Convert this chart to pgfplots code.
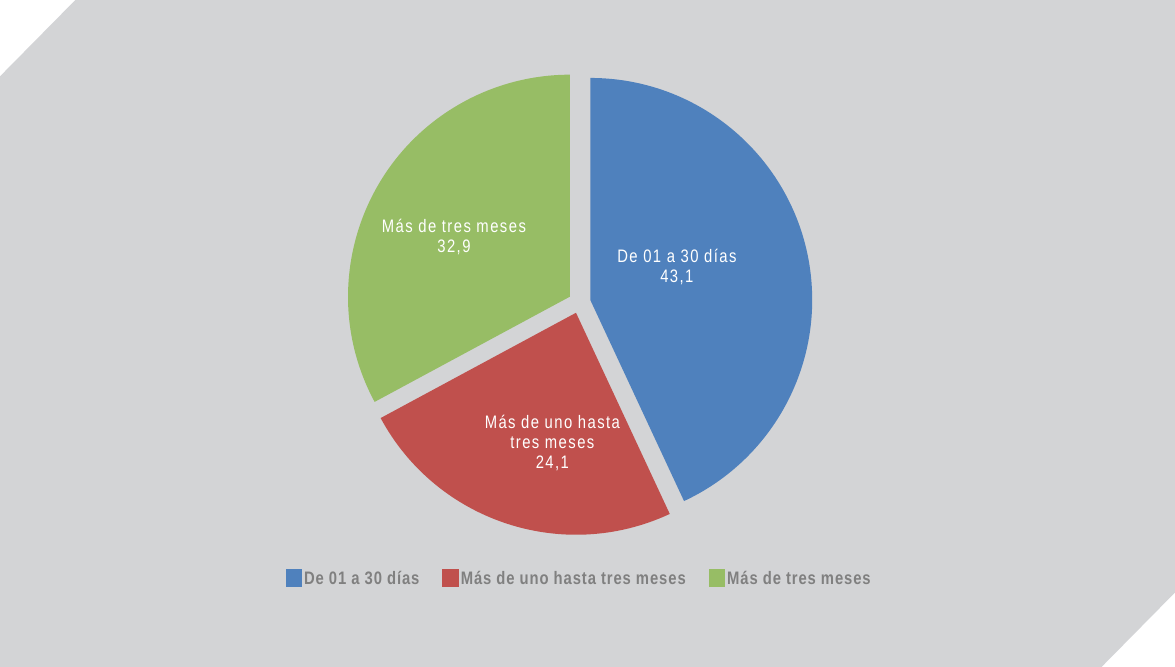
\documentclass[border=0pt]{standalone}
\usepackage{fontspec}
\setmainfont{Liberation Sans}
\newfontfamily\lblfont[FakeStretch=0.82,LetterSpace=8]{Liberation Sans}
\newfontfamily\legfont[FakeStretch=0.82,LetterSpace=5]{Liberation Sans}
\usepackage{pgfplots}
\pgfplotsset{compat=1.18}
\definecolor{bg}{RGB}{211,212,214}
\definecolor{cA}{RGB}{79,129,189}
\definecolor{cB}{RGB}{192,80,77}
\definecolor{cC}{RGB}{151,189,101}
\definecolor{legtxt}{RGB}{128,128,128}
% pie values
\def\vA{43.1}\def\vB{24.1}\def\vC{32.9}
\begin{document}
\begin{tikzpicture}
\pgfmathsetmacro\tot{\vA+\vB+\vC}
\pgfmathsetmacro\aA{90}
\pgfmathsetmacro\aB{90-360*\vA/\tot}
\pgfmathsetmacro\aC{\aB-360*\vB/\tot}
\pgfmathsetmacro\aD{\aC-360*\vC/\tot}
\pgfmathsetmacro\mA{(\aA+\aB)/2}
\pgfmathsetmacro\mB{(\aB+\aC)/2}
\pgfmathsetmacro\mC{(\aC+\aD)/2}
\def\R{165.75pt}
\def\E{8.25pt}
\begin{axis}[
  scale only axis, width=881.25pt, height=499.5pt,
  xmin=0, xmax=1175, ymin=0, ymax=666,
  hide axis, clip=false,
  legend style={at={(axis cs:580,89)}, anchor=center, legend columns=3,
    draw=none, fill=none, text=legtxt,
    font=\legfont\bfseries\fontsize{13.5}{15}\selectfont,
    /tikz/every even column/.append style={column sep=15pt}},
  legend image code/.code={\fill[#1] (0pt,-6pt) rectangle (11.5pt,6.5pt);},
]
\fill[bg] (axis cs:3,1) -- (axis cs:3,589) -- (axis cs:78,665) -- (axis cs:1173,665)
  -- (axis cs:1173,75) -- (axis cs:1100,1) -- cycle;
\fill[cA] ([shift={(\mA:\E)}]axis cs:580,364) -- ++(\aA:\R) arc[start angle=\aA, end angle=\aB, radius=\R] -- cycle;
\fill[cB] ([shift={(\mB:\E)}]axis cs:580,364) -- ++(\aB:\R) arc[start angle=\aB, end angle=\aC, radius=\R] -- cycle;
\fill[cC] ([shift={(\mC:\E)}]axis cs:580,364) -- ++(\aC:\R) arc[start angle=\aC, end angle=\aD, radius=\R] -- cycle;
\node[text=white, align=center, font=\lblfont\fontsize{13.5}{14.8}\selectfont] at (axis cs:677,399) {De 01 a 30 días\\43,1};
\node[text=white, align=center, font=\lblfont\fontsize{13.5}{14.8}\selectfont] at (axis cs:455,429) {Más de tres meses\\32,9};
\node[text=white, align=center, font=\lblfont\fontsize{13.5}{14.8}\selectfont] at (axis cs:553,224) {Más de uno hasta\\tres meses\\24,1};
\addlegendimage{cA}
\addlegendentry{De 01 a 30 días}
\addlegendimage{cB}
\addlegendentry{Más de uno hasta tres meses}
\addlegendimage{cC}
\addlegendentry{Más de tres meses}
\end{axis}
\end{tikzpicture}
\end{document}
